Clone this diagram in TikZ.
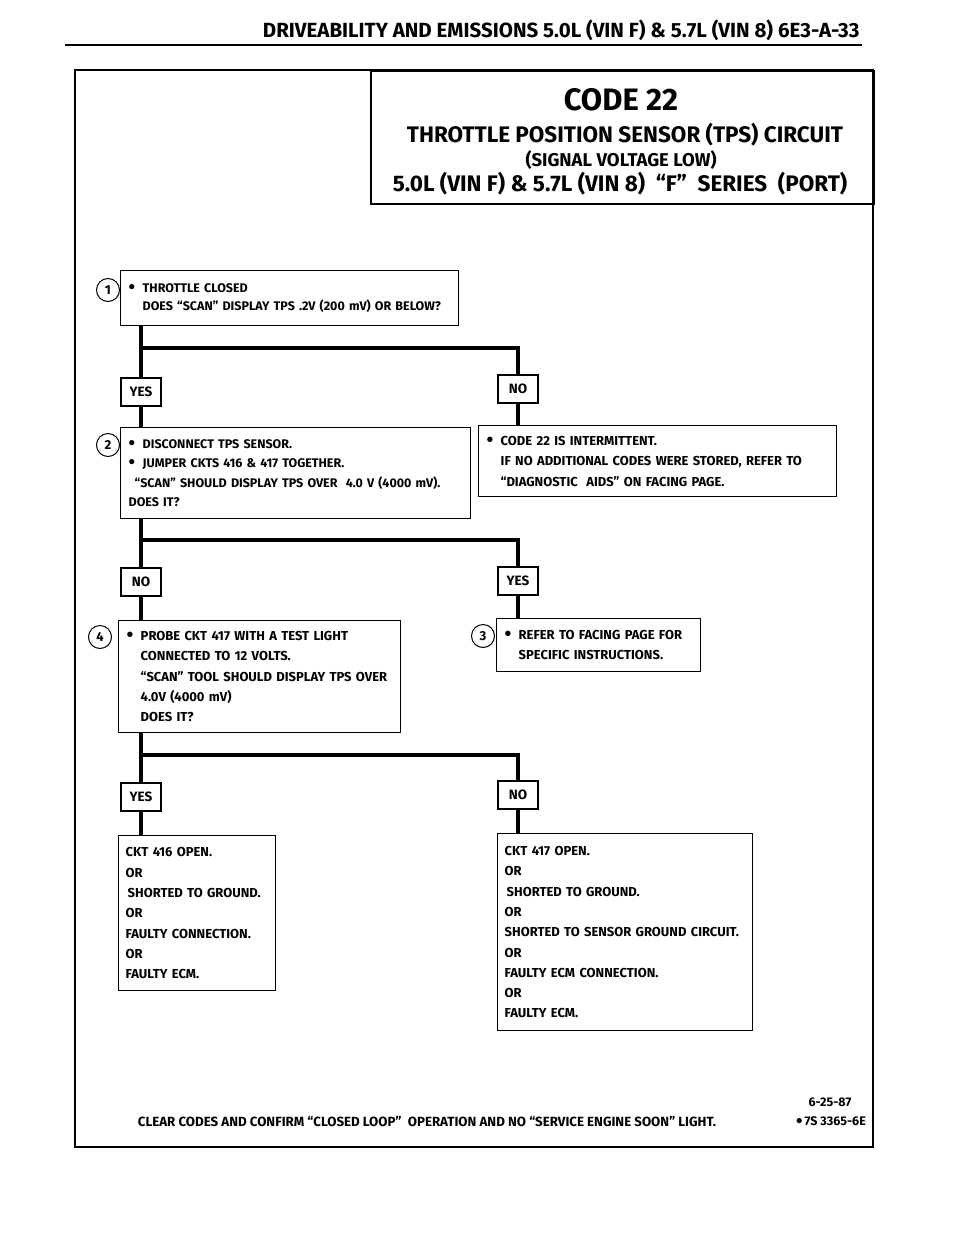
\documentclass[tikz,border=0pt]{standalone}
\usepackage{fontspec}
\setmainfont{Fira Sans}
\usetikzlibrary{positioning}

\newcommand{\tpsdot}{\raisebox{-1.2pt}{\scalebox{1.5}{\textbullet}}}
\newcommand{\tpsbullet}{\makebox[14pt][l]{\tpsdot}}
\newcommand{\tpsindent}{\hspace*{14pt}}

\tikzset{
  stepbox/.style={draw, line width=1.4pt, anchor=north west, align=left,
    inner xsep=8pt, inner ysep=0pt,
    font=\bfseries\fontsize{13}{20.3}\selectfont},
  answer/.style={draw, line width=1.3pt, minimum width=40pt, minimum height=28pt,
    inner sep=0pt, font=\bfseries\fontsize{13.5}{14}\selectfont},
  stepnum/.style={draw, circle, line width=1pt, minimum size=23pt, inner sep=0pt,
    font=\bfseries\fontsize{13}{14}\selectfont},
  flow/.style={line width=3.6pt},
}

\begin{document}
\begin{tikzpicture}[x=1pt, y=-1pt]
    \useasboundingbox (0,0) rectangle (960,1242);

    % Page header
    \node (header) [anchor=east, font=\bfseries\fontsize{20.5}{22}\selectfont] at (863,30)
        {DRIVEABILITY AND EMISSIONS 5.0L (VIN F) \& 5.7L (VIN 8) 6E3-A-33};
    \draw[line width=2pt] (65,45) -- (862,45);

    % Outer frame and title box
    \draw[line width=2.4pt] (75,70) rectangle (873,1147);
    \node (title) [draw, line width=1.8pt, anchor=north west, minimum width=503pt,
        minimum height=133pt] at (370,70) {};
    \node (code) [font=\bfseries\fontsize{31}{34}\selectfont] at (621,100) {CODE 22};
    \node (tps) [font=\bfseries\fontsize{22.5}{24}\selectfont] at (625,135)
        {THROTTLE POSITION SENSOR (TPS) CIRCUIT};
    \node (signal) [font=\bfseries\fontsize{18.5}{20}\selectfont] at (621,160)
        {(SIGNAL VOLTAGE LOW)};
    \node (engine) [font=\bfseries\fontsize{22.5}{24}\selectfont] at (620,184)
        {5.0L (VIN F) \& 5.7L (VIN 8) \ “F” \ SERIES \ (PORT)};

    % Step 1
    \node (q1) [stepbox, minimum width=338pt, minimum height=55pt, text width=322pt,
        font=\bfseries\fontsize{12.5}{18.5}\selectfont] at (120,270)
        {\tpsbullet THROTTLE CLOSED\\
         \tpsindent DOES “SCAN” DISPLAY TPS .2V (200 mV) OR BELOW?};
    \node (c1) [stepnum] at (108,290) {1};

    \node (yes1) [answer] at (141,392) {YES};
    \node (no1) [answer] at (518,389) {NO};
    \coordinate (split1) at (141,348);

    % Step 2 and intermittent
    \node (q2) [stepbox, minimum width=350pt, minimum height=91pt, text width=334pt,
        font=\bfseries\fontsize{12.5}{19.5}\selectfont] at (120,427)
        {\tpsbullet DISCONNECT TPS SENSOR.\\
         \tpsbullet JUMPER CKTS 416 \& 417 TOGETHER.\\
         \hspace*{6pt}“SCAN” SHOULD DISPLAY TPS OVER \ 4.0 V (4000 mV).\\
         DOES IT?};
    \node (c2) [stepnum] at (108,445) {2};
    \node (r2) [stepbox, minimum width=358pt, minimum height=71pt, text width=342pt]
        at (478,425)
        {\tpsbullet CODE 22 IS INTERMITTENT.\\
         \tpsindent IF NO ADDITIONAL CODES WERE STORED, REFER TO\\
         \tpsindent “DIAGNOSTIC \ AIDS” ON FACING PAGE.};

    \draw[flow] (q1.south -| yes1) -- (yes1.north);
    \draw[flow] (yes1.south) -- (yes1 |- q2.north);
    \draw[flow] (split1) -| (no1.north);
    \draw[flow] (no1.south) -- (no1 |- r2.north);

    \node (no2) [answer] at (141,582) {NO};
    \node (yes2) [answer] at (518,581) {YES};
    \coordinate (split2) at (141,540);

    % Step 4 and step 3
    \node (q4) [stepbox, minimum width=282pt, minimum height=112pt, text width=266pt]
        at (118,620)
        {\tpsbullet PROBE CKT 417 WITH A TEST LIGHT\\
         \tpsindent CONNECTED TO 12 VOLTS.\\
         \tpsindent “SCAN” TOOL SHOULD DISPLAY TPS OVER\\
         \tpsindent 4.0V (4000 mV)\\
         \tpsindent DOES IT?};
    \node (c4) [stepnum] at (100,637) {4};
    \node (r3) [stepbox, minimum width=204pt, minimum height=53pt, text width=188pt]
        at (496,618)
        {\tpsbullet REFER TO FACING PAGE FOR\\
         \tpsindent SPECIFIC INSTRUCTIONS.};
    \node (c3) [stepnum] at (483,636) {3};

    \draw[flow] (q2.south -| no2) -- (no2.north);
    \draw[flow] (no2.south) -- (no2 |- q4.north);
    \draw[flow] (split2) -| (yes2.north);
    \draw[flow] (yes2.south) -- (yes2 |- r3.north);

    \node (yes3) [answer] at (141,797) {YES};
    \node (no3) [answer] at (518,795) {NO};
    \coordinate (split3) at (141,755);

    % Results
    \node (r5) [stepbox, minimum width=157pt, minimum height=155pt, text width=143pt,
        inner xsep=7pt] at (118,835)
        {CKT 416 OPEN.\\
         OR\\
         \hspace*{2pt}SHORTED TO GROUND.\\
         OR\\
         FAULTY CONNECTION.\\
         OR\\
         FAULTY ECM.};
    \node (r6) [stepbox, minimum width=255pt, minimum height=197pt, text width=241pt,
        inner xsep=7pt] at (497,833)
        {CKT 417 OPEN.\\
         OR\\
         \hspace*{2pt}SHORTED TO GROUND.\\
         OR\\
         SHORTED TO SENSOR GROUND CIRCUIT.\\
         OR\\
         FAULTY ECM CONNECTION.\\
         OR\\
         FAULTY ECM.};

    \draw[flow] (q4.south -| yes3) -- (yes3.north);
    \draw[flow] (yes3.south) -- (yes3 |- r5.north);
    \draw[flow] (split3) -| (no3.north);
    \draw[flow] (no3.south) -- (no3 |- r6.north);

    % Footer
    \node (clear) [font=\bfseries\fontsize{13.3}{14}\selectfont] at (427,1122)
        {CLEAR CODES AND CONFIRM “CLOSED LOOP” \ OPERATION AND NO “SERVICE ENGINE SOON” LIGHT.};
    \node (date) [font=\bfseries\fontsize{12.5}{13}\selectfont] at (830,1102) {6-25-87};
    \node (fig) [font=\bfseries\fontsize{12.5}{13}\selectfont] at (831,1122) {\tpsdot\,7S 3365-6E};
\end{tikzpicture}
\end{document}
